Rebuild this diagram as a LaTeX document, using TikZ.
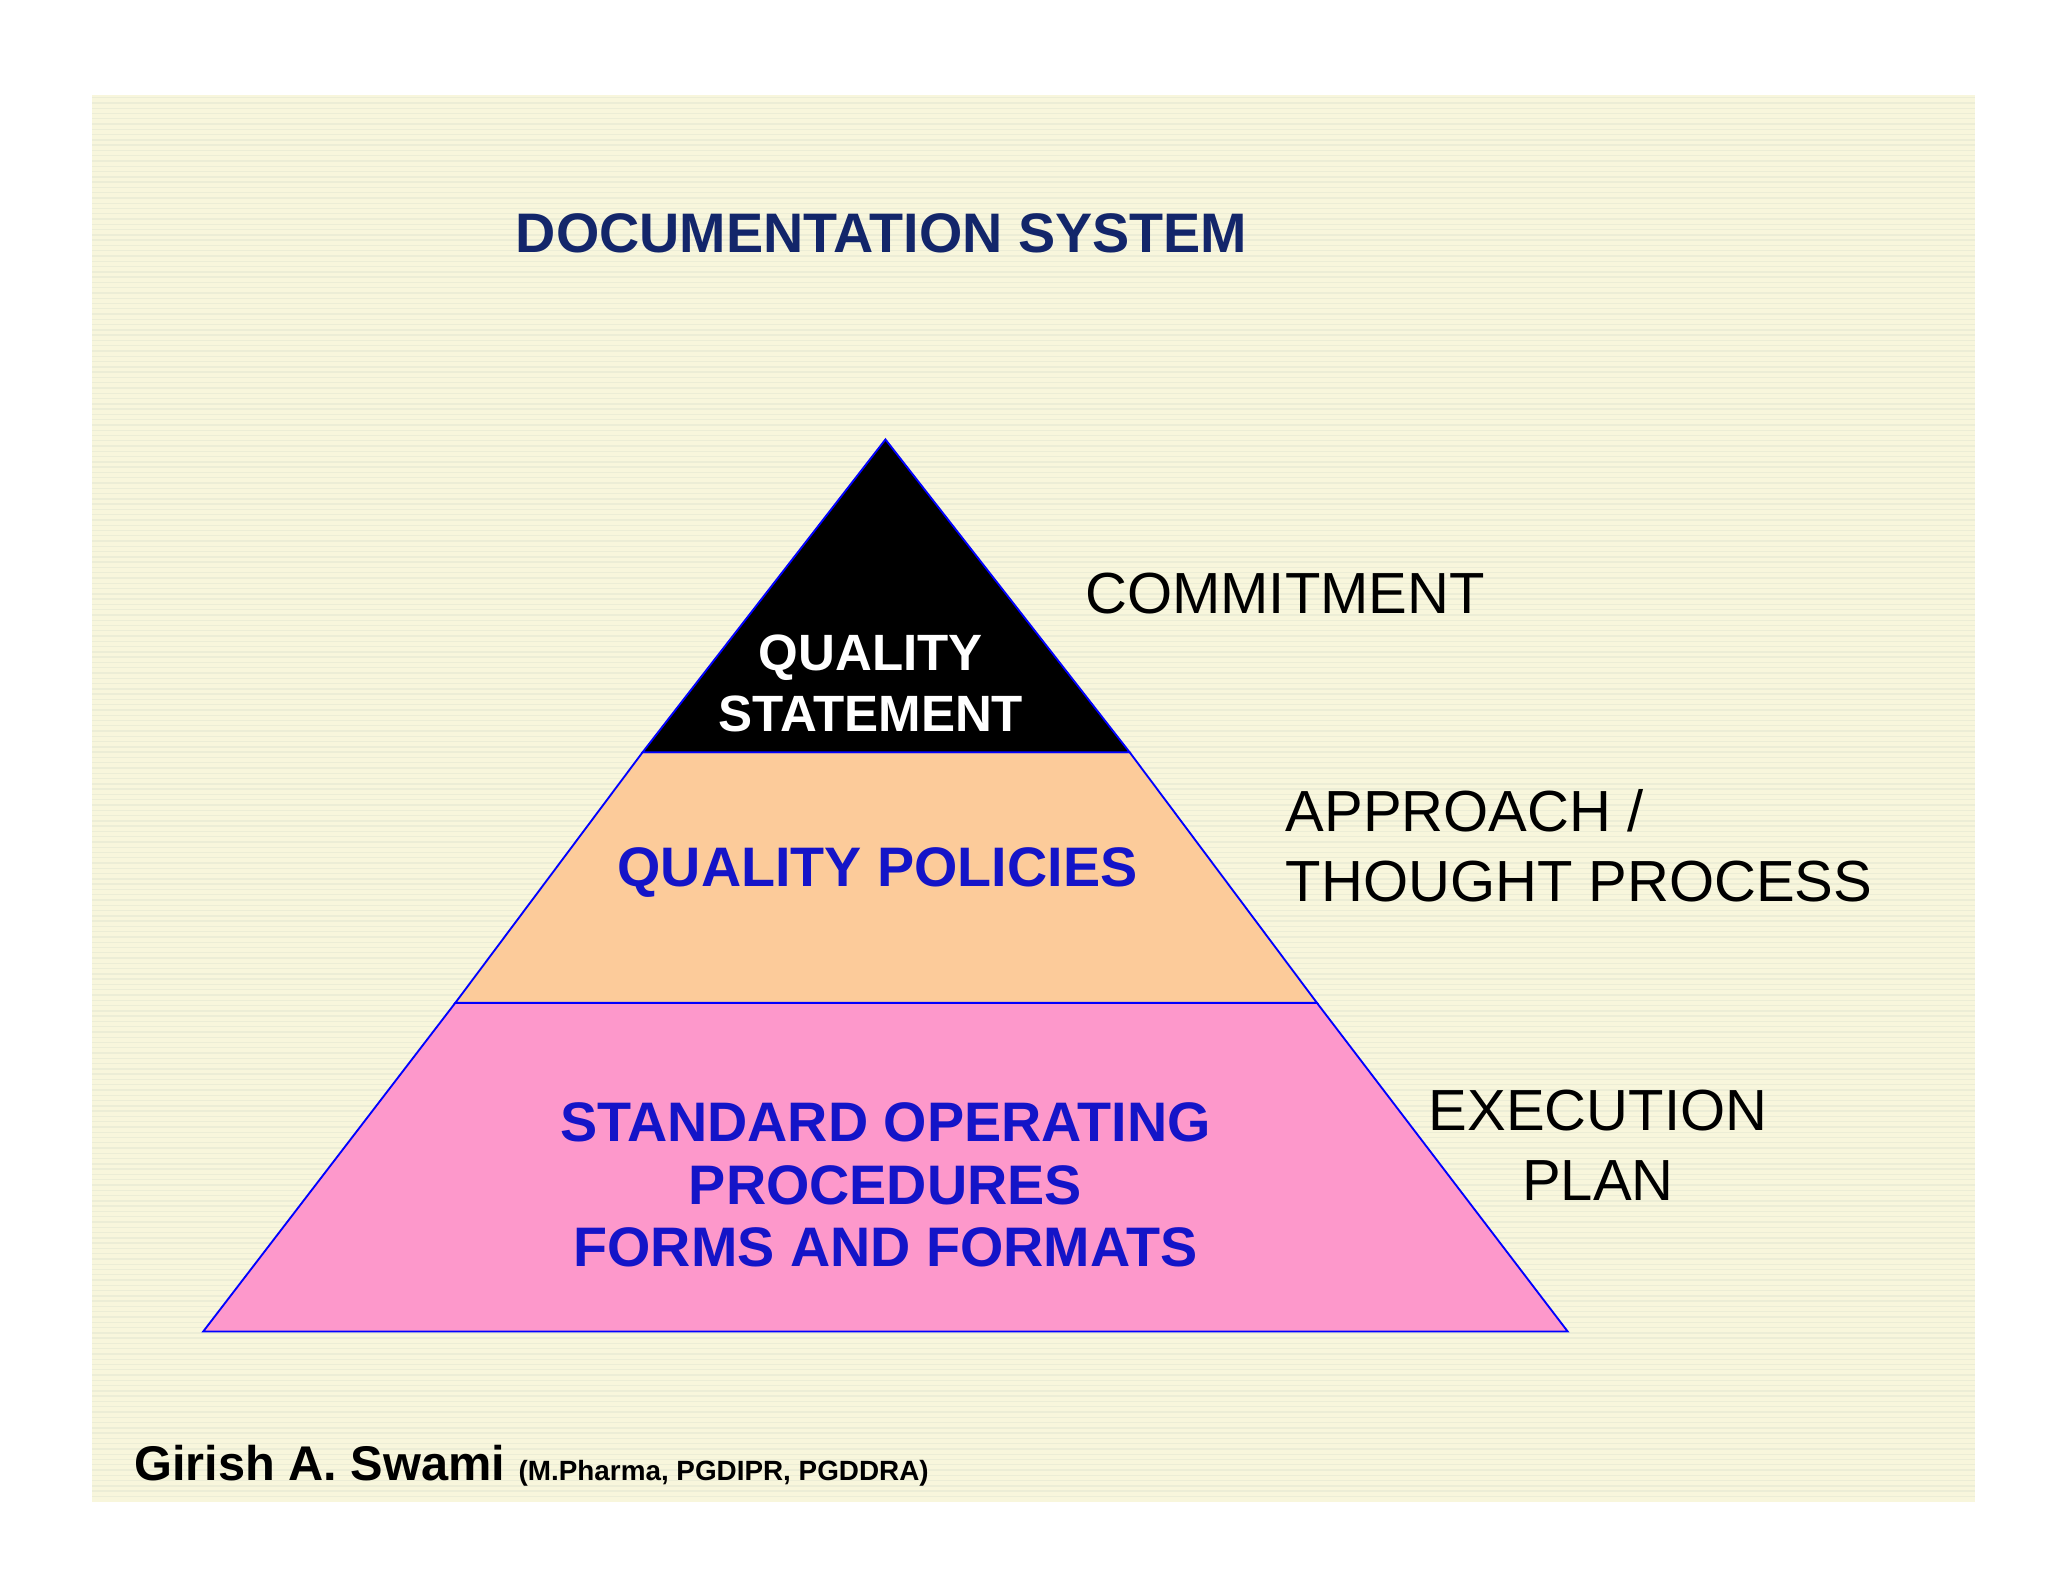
\documentclass[tikz,border=0pt]{standalone}
\usepackage{fontspec}
\setmainfont{Liberation Sans}
\definecolor{bgy}{HTML}{F8F6DC}
\definecolor{bgs}{HTML}{ECEDD6}
\definecolor{navy}{HTML}{13266A}
\definecolor{orng}{HTML}{FCCB9A}
\definecolor{pnk}{HTML}{FD98CB}
\definecolor{bluetxt}{HTML}{1414C8}
\begin{document}
\begin{tikzpicture}[x=0.01cm,y=-0.01cm,
  edge/.style={draw=blue,line width=0.4pt},
  side/.style={font=\fontsize{12.5}{15}\selectfont,align=center,text=black},
  inner/.style={font=\bfseries\fontsize{12}{14}\selectfont,align=center,text=bluetxt}]
\useasboundingbox (0,0) rectangle (1552,1199);
\fill[white] (0,0) rectangle (1552,1199);
\fill[bgy] (70,72) rectangle (1497,1138);
\foreach \y in {74,78,...,1136} \draw[bgs,line width=0.3pt] (70,\y) -- (1497,\y);
\node[font=\bfseries\fontsize{12}{14}\selectfont,text=navy] (title) at (668,177) {DOCUMENTATION SYSTEM};
\coordinate (apex) at (671,333);
\coordinate (l1) at (487,570); \coordinate (r1) at (856,570);
\coordinate (l2) at (345,760); \coordinate (r2) at (998,760);
\coordinate (l3) at (154,1009); \coordinate (r3) at (1188,1009);
\filldraw[fill=pnk,edge] (l2) -- (r2) -- (r3) -- (l3) -- cycle;
\filldraw[fill=orng,edge] (l1) -- (r1) -- (r2) -- (l2) -- cycle;
\filldraw[fill=black,edge] (apex) -- (r1) -- (l1) -- cycle;
\node[font=\bfseries\fontsize{11}{13}\selectfont,align=center,text=white] (qs) at (660,518) {QUALITY\\STATEMENT};
\node[inner] (qp) at (665,661) {QUALITY POLICIES};
\node[inner,font=\bfseries\fontsize{12}{13.5}\selectfont] (sop) at (671,898) {STANDARD OPERATING\\PROCEDURES\\FORMS AND FORMATS};
\node[side,anchor=west] (com) at (810,450) {COMMITMENT};
\node[side,anchor=west,align=left] (app) at (962,641) {APPROACH /\\THOUGHT PROCESS};
\node[side] (exe) at (1211,868) {EXECUTION\\PLAN};
\node[anchor=base west,inner sep=0] (auth) at (101,1122) {\bfseries\fontsize{10.5}{12}\selectfont Girish A. Swami \fontsize{6}{7}\selectfont (M.Pharma, PGDIPR, PGDDRA)};
\end{tikzpicture}
\end{document}
